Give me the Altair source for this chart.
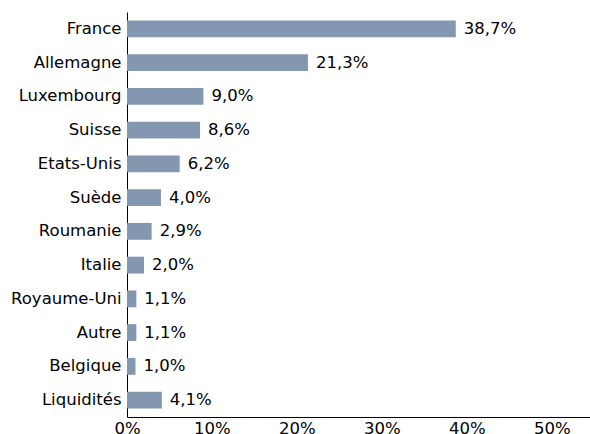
import altair as alt
import pandas as pd

categories = ["France", "Allemagne", "Luxembourg", "Suisse", "Etats-Unis", "Suède",
              "Roumanie", "Italie", "Royaume-Uni", "Autre", "Belgique", "Liquidités"]
values = [38.7, 21.3, 9.0, 8.6, 6.2, 4.0, 2.9, 2.0, 1.1, 1.1, 1.0, 4.1]
labels = [f"{v:.1f}%".replace(".", ",") for v in values]

df = pd.DataFrame({"cat": categories, "val": values, "lab": labels})

FONT = "DejaVu Sans"
FS = 16.5
y = alt.Y("cat:N", sort=categories, title=None,
          scale=alt.Scale(paddingInner=0.5, paddingOuter=0.25),
          axis=alt.Axis(ticks=False, labelPadding=6, labelFontSize=FS, labelFont=FONT,
                        labelColor="black", domainColor="black", grid=False))
x = alt.X("val:Q", title=None,
          scale=alt.Scale(domain=[0, 54.5], nice=False),
          axis=alt.Axis(values=[0, 10, 20, 30, 40, 50], labelExpr="datum.value + '%'",
                        ticks=False, labelPadding=3, labelFontSize=FS, labelFont=FONT,
                        labelColor="black", domainColor="black", grid=False, labelFlush=False))

bars = alt.Chart(df).mark_bar(color="#8497B0").encode(x=x, y=y)
text = alt.Chart(df).mark_text(align="left", baseline="middle", dx=8, fontSize=FS,
                               font=FONT, color="black").encode(x="val:Q", y=alt.Y("cat:N", sort=categories), text="lab:N")

chart = (bars + text).properties(
    width=463, height=405,
    padding={"left": 127, "top": 12, "right": 0, "bottom": 17},
    autosize=alt.AutoSizeParams(type="none"),
).configure_view(stroke=None)

chart.save("out.html", embed_options={"renderer": "svg", "actions": False})
